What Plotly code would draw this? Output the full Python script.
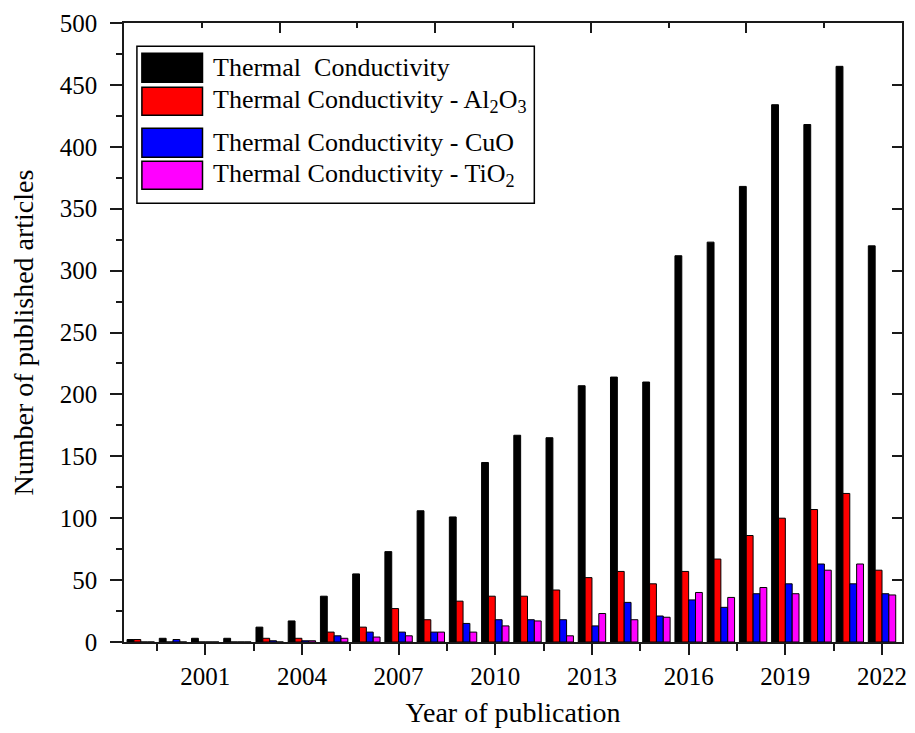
import plotly.graph_objects as go

years = list(range(1999, 2023))
tc_total = [2, 3, 3, 3, 12, 17, 37, 55, 73, 106, 101, 145, 167, 165, 207, 214, 210, 312, 323, 368, 434, 418, 465, 320]
tc_al2o3 = [2, 0, 0, 0, 3, 3, 8, 12, 27, 18, 33, 37, 37, 42, 52, 57, 47, 57, 67, 86, 100, 107, 120, 58]
tc_cuo = [0, 2, 0, 0, 1, 1, 5, 8, 8, 8, 15, 18, 18, 18, 13, 32, 21, 34, 28, 39, 47, 63, 47, 39]
tc_tio2 = [0, 0, 0, 0, 0, 1, 3, 4, 5, 8, 8, 13, 17, 5, 23, 18, 20, 40, 36, 44, 39, 58, 63, 38]

series_names = [
    "Thermal  Conductivity",
    "Thermal Conductivity - Al<sub>2</sub>O<sub>3</sub>",
    "Thermal Conductivity - CuO",
    "Thermal Conductivity - TiO<sub>2</sub>",
]
series_values = [tc_total, tc_al2o3, tc_cuo, tc_tio2]
series_colors = ["#000000", "#FF0000", "#0000FF", "#FF00FF"]

FONT = "Liberation Serif, Times New Roman, serif"

fig = go.Figure()
for name, vals, col in zip(series_names, series_values, series_colors):
    fig.add_trace(go.Bar(
        x=years, y=vals, name=name,
        marker=dict(color=col, line=dict(color="black", width=1)),
        showlegend=False,
    ))

# invisible helper trace for the top / right frame axes
fig.add_trace(go.Scatter(x=[0, 5], y=[0, 500], xaxis="x2", yaxis="y2",
                         mode="markers", marker=dict(opacity=0),
                         hoverinfo="skip", showlegend=False))

axis_col = "#1a1a1a"
fig.update_layout(
    width=915, height=733,
    margin=dict(l=124, r=8, t=23, b=91),
    paper_bgcolor="white", plot_bgcolor="white",
    barmode="group", bargap=0.15, bargroupgap=0,
    font=dict(family=FONT, color="black", size=25),
    xaxis=dict(
        range=[1998.48, 2022.62], tick0=2001, dtick=3,
        ticks="outside", ticklen=11, tickwidth=1.5, tickcolor=axis_col,
        minor=dict(tick0=2001, dtick=1.5, ticks="outside", ticklen=7, tickwidth=1.5, tickcolor=axis_col),
        showline=True, linecolor=axis_col, linewidth=1.5,
        showgrid=False, zeroline=False,
        tickfont=dict(size=25, family=FONT),
        title=dict(text="Year of publication", font=dict(size=28, family=FONT), standoff=14),
    ),
    yaxis=dict(
        range=[0, 500], dtick=50,
        ticks="outside", ticklen=12, tickwidth=1.5, tickcolor=axis_col,
        minor=dict(dtick=25, ticks="outside", ticklen=6, tickwidth=1.5, tickcolor=axis_col),
        showline=True, linecolor=axis_col, linewidth=1.5,
        showgrid=False, zeroline=False,
        tickfont=dict(size=25, family=FONT), ticklabelstandoff=8,
        title=dict(text="Number of published articles", font=dict(size=28, family=FONT), standoff=18),
    ),
    xaxis2=dict(
        overlaying="x", side="top", anchor="y2", range=[0, 5], dtick=1,
        ticks="inside", ticklen=10, tickwidth=1.5, tickcolor=axis_col,
        minor=dict(dtick=0.5, ticks="inside", ticklen=5, tickwidth=1.5, tickcolor=axis_col),
        showticklabels=False, showline=True, linecolor=axis_col, linewidth=1.5,
        showgrid=False, zeroline=False,
    ),
    yaxis2=dict(
        overlaying="y", side="right", anchor="x2", range=[0, 500], dtick=50,
        ticks="inside", ticklen=10, tickwidth=1.5, tickcolor=axis_col,
        showticklabels=False, showline=True, linecolor=axis_col, linewidth=1.5,
        showgrid=False, zeroline=False,
    ),
)

# legend box drawn like the original (large swatches)
fig.add_shape(type="rect", xref="paper", yref="paper",
              x0=0.0166, x1=0.5274, y0=0.7089, y1=0.9624,
              line=dict(color="black", width=1.5), fillcolor="white", layer="above")
rows = [(0.9042, 0.9511), (0.8510, 0.8962), (0.7831, 0.8300), (0.7315, 0.7767)]
for (y0, y1), name, col in zip(rows, series_names, series_colors):
    fig.add_shape(type="rect", xref="paper", yref="paper",
                  x0=0.0230, x1=0.1009, y0=y0, y1=y1,
                  line=dict(color="black", width=1.5), fillcolor=col, layer="above")
    fig.add_annotation(xref="paper", yref="paper", x=0.1124, y=(y0 + y1) / 2,
                       xanchor="left", yanchor="middle", showarrow=False,
                       text=name, font=dict(size=26, family=FONT, color="black"))

fig.write_html("out.html")
